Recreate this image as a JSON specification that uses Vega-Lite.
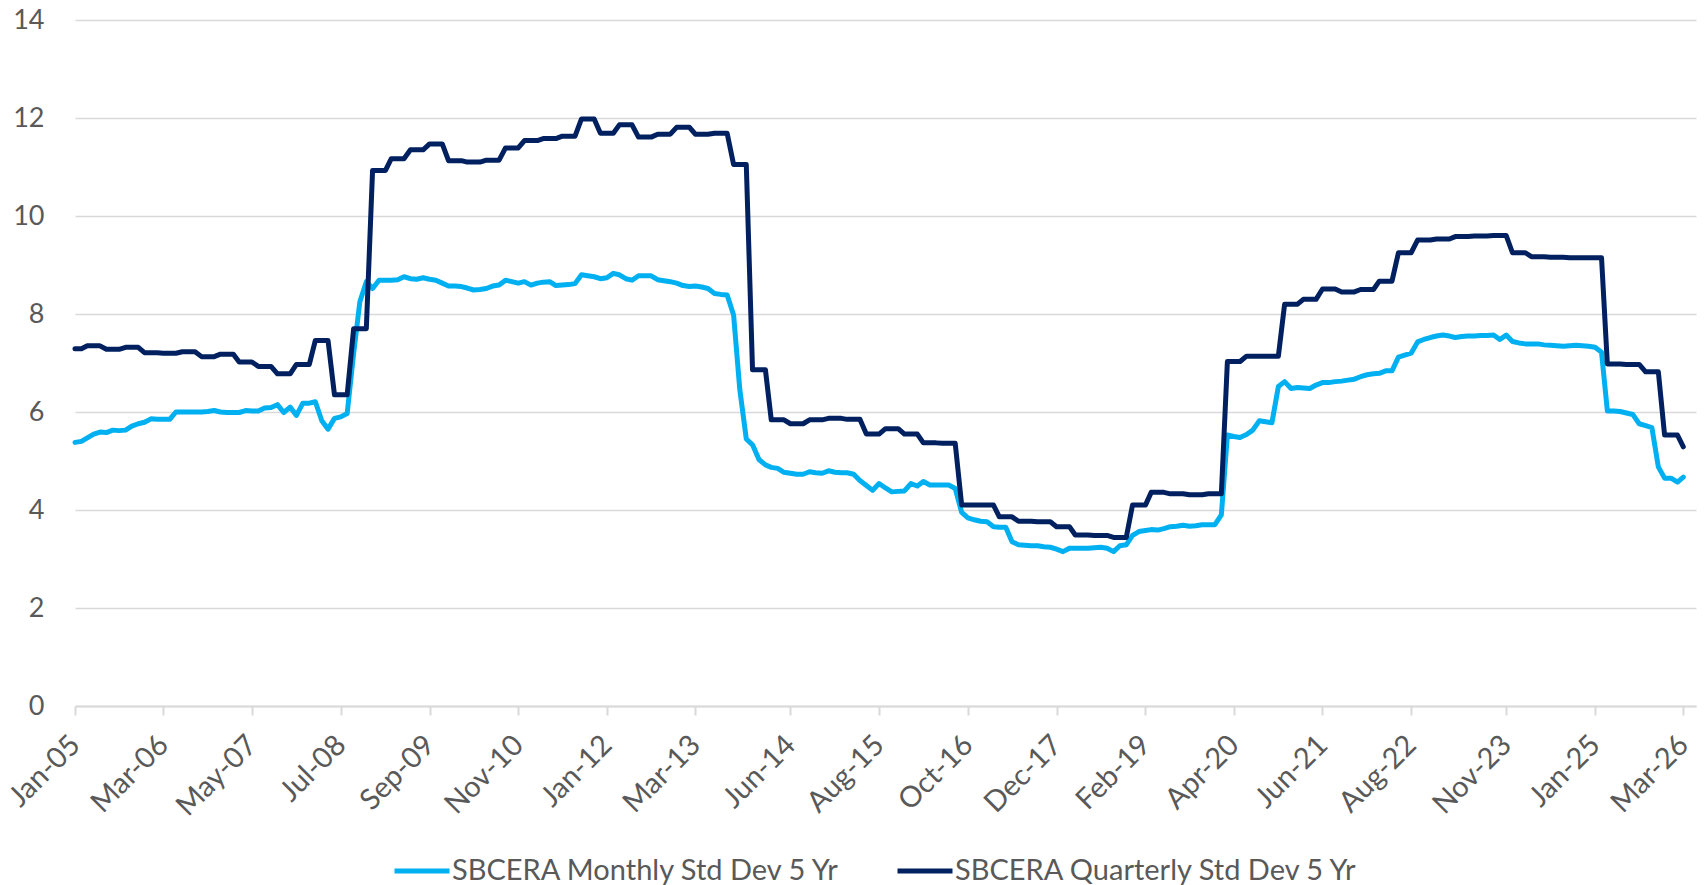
{
"$schema":"https://vega.github.io/schema/vega-lite/v6.json",
"width":1621,"height":686,
"autosize":{"type":"none"},
"padding":{"left":75,"top":20,"right":12,"bottom":179},
"background":"white",
"config":{"view":{"stroke":null},"font":"Lato"},
"data":{"format":{"parse":{"d":"utc:'%Y-%m'"}},"values":[
{"d":"2005-01","m":5.38,"q":7.29},{"d":"2005-02","m":5.40,"q":7.29},{"d":"2005-03","m":5.47,"q":7.35},{"d":"2005-04","m":5.55,"q":7.35},{"d":"2005-05","m":5.59,"q":7.35},{"d":"2005-06","m":5.58,"q":7.28},{"d":"2005-07","m":5.63,"q":7.28},{"d":"2005-08","m":5.62,"q":7.28},{"d":"2005-09","m":5.63,"q":7.32},{"d":"2005-10","m":5.71,"q":7.32},{"d":"2005-11","m":5.76,"q":7.32},{"d":"2005-12","m":5.79,"q":7.21},
{"d":"2006-01","m":5.86,"q":7.21},{"d":"2006-02","m":5.85,"q":7.21},{"d":"2006-03","m":5.85,"q":7.20},{"d":"2006-04","m":5.85,"q":7.20},{"d":"2006-05","m":6.00,"q":7.20},{"d":"2006-06","m":6.00,"q":7.23},{"d":"2006-07","m":6.00,"q":7.23},{"d":"2006-08","m":6.00,"q":7.23},{"d":"2006-09","m":6.00,"q":7.13},{"d":"2006-10","m":6.01,"q":7.13},{"d":"2006-11","m":6.03,"q":7.13},{"d":"2006-12","m":6.00,"q":7.18},
{"d":"2007-01","m":5.99,"q":7.18},{"d":"2007-02","m":5.99,"q":7.18},{"d":"2007-03","m":5.99,"q":7.02},{"d":"2007-04","m":6.03,"q":7.02},{"d":"2007-05","m":6.02,"q":7.02},{"d":"2007-06","m":6.02,"q":6.93},{"d":"2007-07","m":6.08,"q":6.93},{"d":"2007-08","m":6.09,"q":6.93},{"d":"2007-09","m":6.15,"q":6.78},{"d":"2007-10","m":5.99,"q":6.78},{"d":"2007-11","m":6.10,"q":6.78},{"d":"2007-12","m":5.93,"q":6.97},
{"d":"2008-01","m":6.18,"q":6.97},{"d":"2008-02","m":6.18,"q":6.97},{"d":"2008-03","m":6.21,"q":7.46},{"d":"2008-04","m":5.82,"q":7.46},{"d":"2008-05","m":5.65,"q":7.46},{"d":"2008-06","m":5.87,"q":6.35},{"d":"2008-07","m":5.90,"q":6.35},{"d":"2008-08","m":5.97,"q":6.35},{"d":"2008-09","m":7.20,"q":7.70},{"d":"2008-10","m":8.25,"q":7.70},{"d":"2008-11","m":8.66,"q":7.70},{"d":"2008-12","m":8.52,"q":10.93},
{"d":"2009-01","m":8.69,"q":10.93},{"d":"2009-02","m":8.69,"q":10.93},{"d":"2009-03","m":8.69,"q":11.17},{"d":"2009-04","m":8.70,"q":11.17},{"d":"2009-05","m":8.76,"q":11.17},{"d":"2009-06","m":8.72,"q":11.35},{"d":"2009-07","m":8.71,"q":11.35},{"d":"2009-08","m":8.74,"q":11.35},{"d":"2009-09","m":8.71,"q":11.47},{"d":"2009-10","m":8.69,"q":11.47},{"d":"2009-11","m":8.63,"q":11.47},{"d":"2009-12","m":8.57,"q":11.13},
{"d":"2010-01","m":8.57,"q":11.13},{"d":"2010-02","m":8.56,"q":11.13},{"d":"2010-03","m":8.53,"q":11.10},{"d":"2010-04","m":8.49,"q":11.10},{"d":"2010-05","m":8.50,"q":11.10},{"d":"2010-06","m":8.52,"q":11.14},{"d":"2010-07","m":8.57,"q":11.14},{"d":"2010-08","m":8.59,"q":11.14},{"d":"2010-09","m":8.69,"q":11.39},{"d":"2010-10","m":8.66,"q":11.39},{"d":"2010-11","m":8.63,"q":11.39},{"d":"2010-12","m":8.66,"q":11.54},
{"d":"2011-01","m":8.59,"q":11.54},{"d":"2011-02","m":8.63,"q":11.54},{"d":"2011-03","m":8.65,"q":11.58},{"d":"2011-04","m":8.66,"q":11.58},{"d":"2011-05","m":8.58,"q":11.58},{"d":"2011-06","m":8.59,"q":11.63},{"d":"2011-07","m":8.60,"q":11.63},{"d":"2011-08","m":8.62,"q":11.63},{"d":"2011-09","m":8.80,"q":11.98},{"d":"2011-10","m":8.78,"q":11.98},{"d":"2011-11","m":8.76,"q":11.98},{"d":"2011-12","m":8.72,"q":11.69},
{"d":"2012-01","m":8.74,"q":11.69},{"d":"2012-02","m":8.83,"q":11.69},{"d":"2012-03","m":8.80,"q":11.86},{"d":"2012-04","m":8.72,"q":11.86},{"d":"2012-05","m":8.69,"q":11.86},{"d":"2012-06","m":8.78,"q":11.61},{"d":"2012-07","m":8.78,"q":11.61},{"d":"2012-08","m":8.78,"q":11.61},{"d":"2012-09","m":8.70,"q":11.67},{"d":"2012-10","m":8.68,"q":11.67},{"d":"2012-11","m":8.66,"q":11.67},{"d":"2012-12","m":8.63,"q":11.81},
{"d":"2013-01","m":8.58,"q":11.81},{"d":"2013-02","m":8.56,"q":11.81},{"d":"2013-03","m":8.57,"q":11.67},{"d":"2013-04","m":8.55,"q":11.67},{"d":"2013-05","m":8.52,"q":11.67},{"d":"2013-06","m":8.42,"q":11.69},{"d":"2013-07","m":8.40,"q":11.69},{"d":"2013-08","m":8.39,"q":11.69},{"d":"2013-09","m":7.98,"q":11.05},{"d":"2013-10","m":6.45,"q":11.05},{"d":"2013-11","m":5.45,"q":11.05},{"d":"2013-12","m":5.33,"q":6.86},
{"d":"2014-01","m":5.03,"q":6.86},{"d":"2014-02","m":4.92,"q":6.86},{"d":"2014-03","m":4.87,"q":5.84},{"d":"2014-04","m":4.85,"q":5.84},{"d":"2014-05","m":4.77,"q":5.84},{"d":"2014-06","m":4.75,"q":5.76},{"d":"2014-07","m":4.73,"q":5.76},{"d":"2014-08","m":4.73,"q":5.76},{"d":"2014-09","m":4.78,"q":5.84},{"d":"2014-10","m":4.76,"q":5.84},{"d":"2014-11","m":4.75,"q":5.84},{"d":"2014-12","m":4.80,"q":5.87},
{"d":"2015-01","m":4.77,"q":5.87},{"d":"2015-02","m":4.76,"q":5.87},{"d":"2015-03","m":4.76,"q":5.85},{"d":"2015-04","m":4.73,"q":5.85},{"d":"2015-05","m":4.60,"q":5.85},{"d":"2015-06","m":4.50,"q":5.55},{"d":"2015-07","m":4.40,"q":5.55},{"d":"2015-08","m":4.54,"q":5.55},{"d":"2015-09","m":4.45,"q":5.66},{"d":"2015-10","m":4.37,"q":5.66},{"d":"2015-11","m":4.38,"q":5.66},{"d":"2015-12","m":4.39,"q":5.55},
{"d":"2016-01","m":4.54,"q":5.55},{"d":"2016-02","m":4.49,"q":5.55},{"d":"2016-03","m":4.58,"q":5.37},{"d":"2016-04","m":4.51,"q":5.37},{"d":"2016-05","m":4.51,"q":5.37},{"d":"2016-06","m":4.51,"q":5.36},{"d":"2016-07","m":4.51,"q":5.36},{"d":"2016-08","m":4.44,"q":5.36},{"d":"2016-09","m":3.95,"q":4.10},{"d":"2016-10","m":3.84,"q":4.10},{"d":"2016-11","m":3.80,"q":4.10},{"d":"2016-12","m":3.77,"q":4.10},
{"d":"2017-01","m":3.76,"q":4.10},{"d":"2017-02","m":3.66,"q":4.10},{"d":"2017-03","m":3.65,"q":3.86},{"d":"2017-04","m":3.65,"q":3.86},{"d":"2017-05","m":3.35,"q":3.86},{"d":"2017-06","m":3.29,"q":3.77},{"d":"2017-07","m":3.28,"q":3.77},{"d":"2017-08","m":3.27,"q":3.77},{"d":"2017-09","m":3.27,"q":3.76},{"d":"2017-10","m":3.25,"q":3.76},{"d":"2017-11","m":3.24,"q":3.76},{"d":"2017-12","m":3.20,"q":3.66},
{"d":"2018-01","m":3.15,"q":3.66},{"d":"2018-02","m":3.22,"q":3.66},{"d":"2018-03","m":3.22,"q":3.49},{"d":"2018-04","m":3.22,"q":3.49},{"d":"2018-05","m":3.22,"q":3.49},{"d":"2018-06","m":3.23,"q":3.48},{"d":"2018-07","m":3.24,"q":3.48},{"d":"2018-08","m":3.22,"q":3.48},{"d":"2018-09","m":3.15,"q":3.44},{"d":"2018-10","m":3.27,"q":3.44},{"d":"2018-11","m":3.29,"q":3.44},{"d":"2018-12","m":3.48,"q":4.10},
{"d":"2019-01","m":3.56,"q":4.10},{"d":"2019-02","m":3.58,"q":4.10},{"d":"2019-03","m":3.60,"q":4.36},{"d":"2019-04","m":3.59,"q":4.36},{"d":"2019-05","m":3.62,"q":4.36},{"d":"2019-06","m":3.66,"q":4.33},{"d":"2019-07","m":3.67,"q":4.33},{"d":"2019-08","m":3.69,"q":4.33},{"d":"2019-09","m":3.67,"q":4.31},{"d":"2019-10","m":3.68,"q":4.31},{"d":"2019-11","m":3.70,"q":4.31},{"d":"2019-12","m":3.70,"q":4.33},
{"d":"2020-01","m":3.70,"q":4.33},{"d":"2020-02","m":3.90,"q":4.33},{"d":"2020-03","m":5.53,"q":7.03},{"d":"2020-04","m":5.50,"q":7.03},{"d":"2020-05","m":5.48,"q":7.03},{"d":"2020-06","m":5.54,"q":7.14},{"d":"2020-07","m":5.63,"q":7.14},{"d":"2020-08","m":5.82,"q":7.14},{"d":"2020-09","m":5.80,"q":7.14},{"d":"2020-10","m":5.78,"q":7.14},{"d":"2020-11","m":6.52,"q":7.14},{"d":"2020-12","m":6.62,"q":8.20},
{"d":"2021-01","m":6.48,"q":8.20},{"d":"2021-02","m":6.50,"q":8.20},{"d":"2021-03","m":6.49,"q":8.30},{"d":"2021-04","m":6.48,"q":8.30},{"d":"2021-05","m":6.55,"q":8.30},{"d":"2021-06","m":6.60,"q":8.51},{"d":"2021-07","m":6.60,"q":8.51},{"d":"2021-08","m":6.62,"q":8.51},{"d":"2021-09","m":6.63,"q":8.45},{"d":"2021-10","m":6.65,"q":8.45},{"d":"2021-11","m":6.67,"q":8.45},{"d":"2021-12","m":6.72,"q":8.50},
{"d":"2022-01","m":6.76,"q":8.50},{"d":"2022-02","m":6.78,"q":8.50},{"d":"2022-03","m":6.79,"q":8.67},{"d":"2022-04","m":6.84,"q":8.67},{"d":"2022-05","m":6.84,"q":8.67},{"d":"2022-06","m":7.12,"q":9.25},{"d":"2022-07","m":7.16,"q":9.25},{"d":"2022-08","m":7.20,"q":9.25},{"d":"2022-09","m":7.43,"q":9.51},{"d":"2022-10","m":7.48,"q":9.51},{"d":"2022-11","m":7.52,"q":9.51},{"d":"2022-12","m":7.55,"q":9.53},
{"d":"2023-01","m":7.57,"q":9.53},{"d":"2023-02","m":7.55,"q":9.53},{"d":"2023-03","m":7.52,"q":9.58},{"d":"2023-04","m":7.54,"q":9.58},{"d":"2023-05","m":7.55,"q":9.58},{"d":"2023-06","m":7.55,"q":9.59},{"d":"2023-07","m":7.56,"q":9.59},{"d":"2023-08","m":7.56,"q":9.59},{"d":"2023-09","m":7.57,"q":9.60},{"d":"2023-10","m":7.48,"q":9.60},{"d":"2023-11","m":7.57,"q":9.60},{"d":"2023-12","m":7.44,"q":9.25},
{"d":"2024-01","m":7.41,"q":9.25},{"d":"2024-02","m":7.39,"q":9.25},{"d":"2024-03","m":7.39,"q":9.17},{"d":"2024-04","m":7.39,"q":9.17},{"d":"2024-05","m":7.37,"q":9.17},{"d":"2024-06","m":7.36,"q":9.16},{"d":"2024-07","m":7.35,"q":9.16},{"d":"2024-08","m":7.34,"q":9.16},{"d":"2024-09","m":7.35,"q":9.15},{"d":"2024-10","m":7.36,"q":9.15},{"d":"2024-11","m":7.35,"q":9.15},{"d":"2024-12","m":7.34,"q":9.15},
{"d":"2025-01","m":7.32,"q":9.15},{"d":"2025-02","m":7.22,"q":9.15},{"d":"2025-03","m":6.02,"q":6.98},{"d":"2025-04","m":6.02,"q":6.98},{"d":"2025-05","m":6.01,"q":6.98},{"d":"2025-06","m":5.98,"q":6.97},{"d":"2025-07","m":5.95,"q":6.97},{"d":"2025-08","m":5.76,"q":6.97},{"d":"2025-09","m":5.72,"q":6.82},{"d":"2025-10","m":5.68,"q":6.82},{"d":"2025-11","m":4.88,"q":6.82},{"d":"2025-12","m":4.65,"q":5.53},
{"d":"2026-01","m":4.65,"q":5.53},{"d":"2026-02","m":4.57,"q":5.53},{"d":"2026-03","m":4.67,"q":5.29}
]},
"transform":[{"fold":["m","q"],"as":["s","v"]}],
"mark":{"type":"line","strokeWidth":5,"strokeCap":"round","strokeJoin":"round"},
"encoding":{
"x":{"field":"d","type":"temporal",
"scale":{"type":"utc","nice":false,"domain":[{"year":2005,"month":1,"date":1,"utc":true},{"year":2026,"month":5,"date":1,"utc":true}]},
"axis":{"title":null,"grid":false,
"values":[{"year":2005,"month":1,"date":1,"utc":true},{"year":2006,"month":3,"date":1,"utc":true},{"year":2007,"month":5,"date":1,"utc":true},{"year":2008,"month":7,"date":1,"utc":true},{"year":2009,"month":9,"date":1,"utc":true},{"year":2010,"month":11,"date":1,"utc":true},{"year":2012,"month":1,"date":1,"utc":true},{"year":2013,"month":3,"date":1,"utc":true},{"year":2014,"month":6,"date":1,"utc":true},{"year":2015,"month":8,"date":1,"utc":true},{"year":2016,"month":10,"date":1,"utc":true},{"year":2017,"month":12,"date":1,"utc":true},{"year":2019,"month":2,"date":1,"utc":true},{"year":2020,"month":4,"date":1,"utc":true},{"year":2021,"month":6,"date":1,"utc":true},{"year":2022,"month":8,"date":1,"utc":true},{"year":2023,"month":11,"date":1,"utc":true},{"year":2025,"month":1,"date":1,"utc":true},{"year":2026,"month":3,"date":1,"utc":true}],
"labelExpr":"utcFormat(datum.value, '%b-%y')",
"labelAngle":-45,"labelAlign":"right","labelBaseline":"middle","labelFontSize":29,"labelColor":"#595959","labelPadding":25,
"labelFlush":false,"labelOverlap":false,"labelBound":false,
"tickSize":9,"tickColor":"#D9D9D9","tickWidth":2,"domainColor":"#D9D9D9","domainWidth":2}},
"y":{"field":"v","type":"quantitative","scale":{"domain":[0,14],"nice":false},
"axis":{"title":null,"values":[0,2,4,6,8,10,12,14],"grid":true,"gridColor":"#D9D9D9","gridWidth":1.5,"domain":false,"ticks":false,"labelFontSize":27,"labelColor":"#595959","labelPadding":31,"labelFlush":false}},
"color":{"field":"s","type":"nominal","scale":{"domain":["m","q"],"range":["#00B0F0","#002060"]},
"legend":{"title":null,"orient":"none","legendX":317,"legendY":821,"direction":"horizontal","padding":0,
"labelExpr":"datum.label == 'm' ? 'SBCERA Monthly Std Dev 5 Yr' : 'SBCERA Quarterly Std Dev 5 Yr'",
"labelFontSize":29,"labelColor":"#595959","labelLimit":800,"labelOffset":0,"columnPadding":45,
"symbolType":"stroke","symbolSize":3025,"symbolStrokeWidth":5}}
}
}
